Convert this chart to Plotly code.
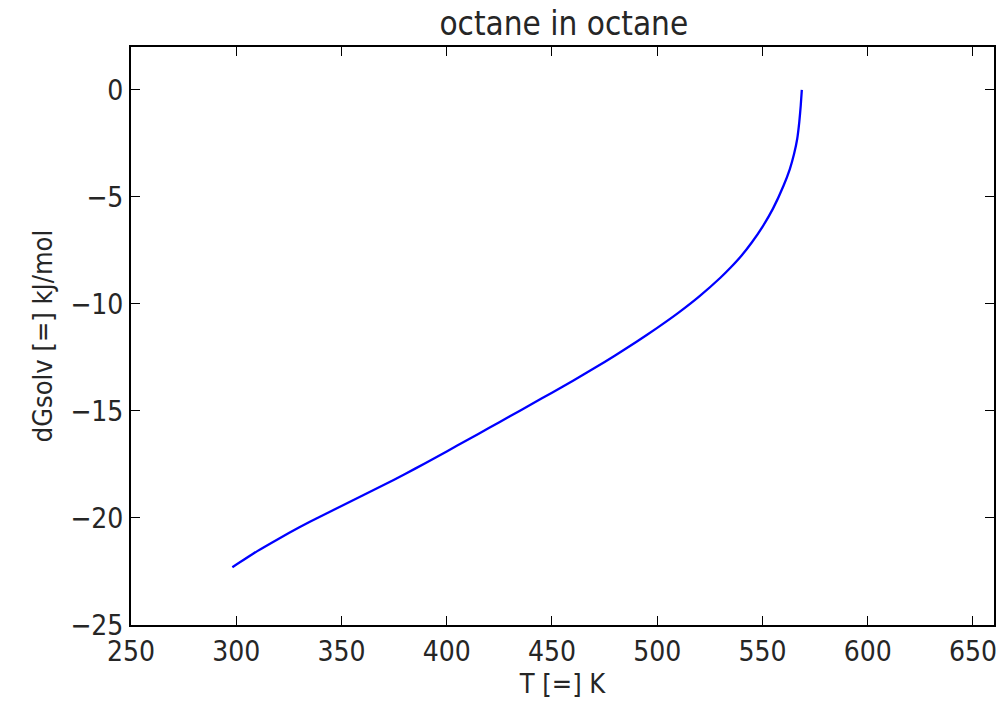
import plotly.graph_objects as go

# Temperature (K) and solvation free energy (kJ/mol)
T_K = [298.15, 310, 320, 330, 340, 350, 360, 370, 380, 390, 400, 410, 420,
       430, 440, 450, 460, 470, 480, 490, 500, 510, 520, 530, 535, 540, 545,
       550, 555, 560, 563, 565, 566.5, 567.5, 568.2, 568.7]
dG_kJmol = [-22.30, -21.55, -20.98, -20.43, -19.93, -19.44, -18.95, -18.46,
            -17.96, -17.43, -16.89, -16.35, -15.80, -15.25, -14.70, -14.15,
            -13.59, -13.01, -12.41, -11.78, -11.12, -10.42, -9.65, -8.78,
            -8.29, -7.75, -7.12, -6.40, -5.55, -4.48, -3.70, -3.00, -2.30,
            -1.50, -0.72, 0.0]

x_ticks = [250, 300, 350, 400, 450, 500, 550, 600, 650]
y_ticks = [-25, -20, -15, -10, -5, 0]

title_text = "octane in octane"
x_title = "T [=] K"
y_title = "dGsolv [=] kJ/mol"

FONT = "DejaVu Sans Condensed, DejaVu Sans, sans-serif"

fig = go.Figure()
fig.add_trace(go.Scatter(x=T_K, y=dG_kJmol, mode="lines",
                         line=dict(color="#0000ff", width=2.3,
                                   shape="spline", smoothing=0.4),
                         showlegend=False, hoverinfo="skip"))

axis_common = dict(
    showgrid=False, zeroline=False,
    showline=True, linecolor="black", linewidth=2, mirror="allticks",
    ticks="inside", ticklen=9, tickwidth=1.3, tickcolor="black",
    tickfont=dict(family=FONT, size=28, color="#262626"),
)

fig.update_layout(
    width=1005, height=703,
    margin=dict(l=131, r=8, t=47, b=78),
    paper_bgcolor="white", plot_bgcolor="white",
    font=dict(family=FONT, color="#262626"),
    title=dict(text=title_text, x=0.561, xanchor="center",
               y=1 - 23 / 703, yanchor="middle", yref="container",
               font=dict(family=FONT, size=33, color="#262626")),
    xaxis=dict(range=[250, 660], tickmode="array", tickvals=x_ticks,
               ticktext=[str(v) for v in x_ticks],
               title=dict(text=x_title, standoff=8,
                          font=dict(family=FONT, size=27, color="#262626")),
               **axis_common),
    yaxis=dict(range=[-25, 2], tickmode="array", tickvals=y_ticks,
               title=dict(text=y_title, standoff=10,
                          font=dict(family=FONT, size=27, color="#262626")),
               **axis_common),
)

fig.write_html("out.html")
